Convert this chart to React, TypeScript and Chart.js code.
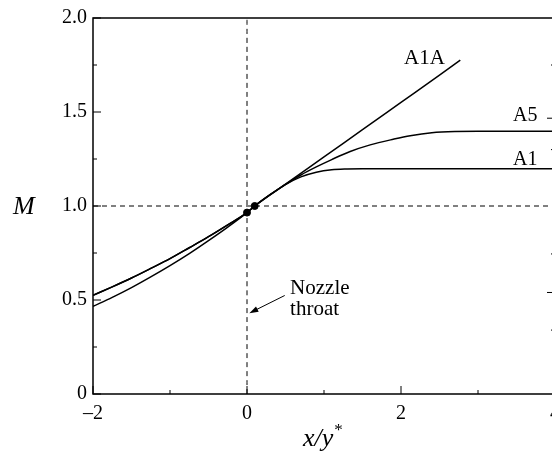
import React, { useEffect, useRef } from "react";
import { Chart, registerables } from "chart.js";

Chart.register(...registerables);

// ---- data ----
const xConv = [-2, -1.75, -1.5, -1.25, -1, -0.75, -0.5, -0.25, 0];
const mConvUpper = [0.525, 0.57, 0.617, 0.668, 0.72, 0.778, 0.837, 0.9, 0.965];
const mConvLower = [0.466, 0.514, 0.566, 0.623, 0.683, 0.747, 0.816, 0.888, 0.965];

const xA1A = [0.1, 0.5, 1, 1.5, 2, 2.5, 2.77];
const mA1A = [1.0, 1.116, 1.261, 1.406, 1.551, 1.696, 1.776];

const xA5 = [0.1, 0.3, 0.5, 0.7, 0.9, 1.1, 1.34, 1.6, 1.9, 2.12, 2.4, 2.7, 3.0, 4];
const mA5 = [1.0, 1.06, 1.115, 1.165, 1.208, 1.247, 1.29, 1.325, 1.355, 1.374, 1.39, 1.396, 1.397, 1.397];

const xA1 = [0.1, 0.3, 0.5, 0.7, 0.9, 1.1, 1.3, 1.5, 2, 4];
const mA1 = [1.0, 1.06, 1.114, 1.155, 1.18, 1.193, 1.197, 1.198, 1.198, 1.198];

const markX = [0, 0.1];
const markM = [0.965, 1.0];

const xTickLabels = ["\u20132", "", "0", "", "2", "", "4"];
const yTickLabels = ["0", "", "0.5", "", "1.0", "", "1.5", "", "2.0"];
const yTickMajor = [true, false, true, false, true, false, true, false, true];
const xTickMajor = [true, false, true, false, true, false, true];

// ticks on the (cropped) right-hand axis, in units of the left axis
const rightTicks = [1.75, 1.467, 1.3, 0.745, 0.54, 0.34];
const rightTickMajor = [false, true, false, false, true, false];

const curveLabels = ["A1A", "A5", "A1"];
const curveLabelX = [2.04, 3.455, 3.455];
const curveLabelM = [1.757, 1.45, 1.217];
const curveLabelSize = [21, 20, 20];

const noteLines = ["Nozzle", "throat"];
const noteX = 0.56;
const noteM = [0.534, 0.418];
const arrowFrom = [0.49, 0.524];
const arrowTo = [0.03, 0.43];

const SERIF = '"Liberation Serif", "Times New Roman", serif';

function pts(xs: number[], ys: number[]) {
  return xs.map((x, i) => ({ x, y: ys[i] }));
}

const overlay = {
  id: "overlay",
  afterDraw(chart: any) {
    const { ctx, chartArea: a, scales } = chart;
    const xs = scales.x;
    const ys = scales.y;
    ctx.save();
    ctx.strokeStyle = "#000";
    ctx.fillStyle = "#000";
    ctx.lineWidth = 1.5;
    // frame
    ctx.beginPath();
    ctx.rect(a.left, a.top, a.right - a.left, a.bottom - a.top);
    ctx.stroke();
    // inward ticks
    ctx.lineWidth = 1;
    xs.ticks.forEach((t: any, i: number) => {
      const px = xs.getPixelForValue(t.value);
      const len = xTickMajor[i] ? 8 : 4;
      ctx.beginPath();
      ctx.moveTo(px, a.bottom);
      ctx.lineTo(px, a.bottom - len);
      ctx.stroke();
    });
    ys.ticks.forEach((t: any, i: number) => {
      const py = ys.getPixelForValue(t.value);
      const len = yTickMajor[i] ? 8 : 4;
      ctx.beginPath();
      ctx.moveTo(a.left, py);
      ctx.lineTo(a.left + len, py);
      ctx.stroke();
    });
    rightTicks.forEach((v, i) => {
      const py = ys.getPixelForValue(v);
      const len = rightTickMajor[i] ? 8 : 4;
      ctx.beginPath();
      ctx.moveTo(a.right, py);
      ctx.lineTo(a.right - len, py);
      ctx.stroke();
    });
    // curve labels
    ctx.textAlign = "left";
    ctx.textBaseline = "alphabetic";
    curveLabels.forEach((s, i) => {
      ctx.font = `${curveLabelSize[i]}px ${SERIF}`;
      ctx.fillText(s, xs.getPixelForValue(curveLabelX[i]), ys.getPixelForValue(curveLabelM[i]));
    });
    // note
    ctx.font = `21px ${SERIF}`;
    noteLines.forEach((s, i) => {
      ctx.fillText(s, xs.getPixelForValue(noteX), ys.getPixelForValue(noteM[i]));
    });
    // arrow
    const x1 = xs.getPixelForValue(arrowFrom[0]);
    const y1 = ys.getPixelForValue(arrowFrom[1]);
    const x2 = xs.getPixelForValue(arrowTo[0]);
    const y2 = ys.getPixelForValue(arrowTo[1]);
    const ang = Math.atan2(y2 - y1, x2 - x1);
    ctx.beginPath();
    ctx.moveTo(x1, y1);
    ctx.lineTo(x2 - 6 * Math.cos(ang), y2 - 6 * Math.sin(ang));
    ctx.stroke();
    ctx.beginPath();
    ctx.moveTo(x2, y2);
    ctx.lineTo(x2 - 9 * Math.cos(ang) + 3 * Math.sin(ang), y2 - 9 * Math.sin(ang) - 3 * Math.cos(ang));
    ctx.lineTo(x2 - 9 * Math.cos(ang) - 3 * Math.sin(ang), y2 - 9 * Math.sin(ang) + 3 * Math.cos(ang));
    ctx.closePath();
    ctx.fill();
    // axis titles
    ctx.font = `italic 26px ${SERIF}`;
    ctx.fillText("M", 13, ys.getPixelForValue(1.0) + 8);
    const tx = 303;
    const ty = 446;
    ctx.fillText("x/y", tx, ty);
    const w = ctx.measureText("x/y").width;
    ctx.font = `17px ${SERIF}`;
    ctx.fillText("*", tx + w + 1, ty - 11);
    ctx.restore();
  },
};

export default function App() {
  const ref = useRef<HTMLCanvasElement | null>(null);
  useEffect(() => {
    if (!ref.current) return;
    const line = (data: any, extra: any = {}) => ({
      type: "line",
      data,
      borderColor: "#000",
      borderWidth: 1.5,
      pointRadius: 0,
      fill: false,
      cubicInterpolationMode: "monotone",
      ...extra,
    });
    const chart = new Chart(ref.current, {
      type: "line",
      data: {
        datasets: [
          line(pts([-2, 4], [1, 1]), { borderWidth: 1, borderDash: [5, 4] }),
          line(pts([0, 0], [0, 2]), { borderWidth: 1, borderDash: [5, 4] }),
          line(pts(xConv.concat(xA1A), mConvLower.concat(mA1A)), { label: "A1A" }),
          line(pts(xConv.concat(xA5), mConvUpper.concat(mA5)), { label: "A5" }),
          line(pts(xConv.concat(xA1), mConvUpper.concat(mA1)), { label: "A1" }),
          {
            type: "scatter",
            data: pts(markX, markM),
            pointRadius: 3.5,
            backgroundColor: "#000",
            borderColor: "#000",
          },
        ] as any,
      },
      options: {
        animation: false,
        responsive: false,
        maintainAspectRatio: false,
        layout: { padding: { left: 0, top: 15, right: 45, bottom: 0 } },
        plugins: { legend: { display: false }, tooltip: { enabled: false } },
        scales: {
          x: {
            type: "linear",
            min: -2,
            max: 4,
            grid: { display: false, drawTicks: false },
            border: { display: false },
            afterFit: (s: any) => {
              s.height = 59;
            },
            ticks: {
              stepSize: 1,
              autoSkip: false,
              maxRotation: 0,
              padding: 8,
              color: "#000",
              font: { family: SERIF, size: 20 },
              callback: (_v: any, i: number) => xTickLabels[i],
            },
          },
          y: {
            type: "linear",
            min: 0,
            max: 2,
            grid: { display: false, drawTicks: false },
            border: { display: false },
            afterFit: (s: any) => {
              s.width = 93;
            },
            ticks: {
              stepSize: 0.25,
              autoSkip: false,
              padding: 6,
              color: "#000",
              font: { family: SERIF, size: 20 },
              callback: (_v: any, i: number) => yTickLabels[i],
            },
          },
        },
      } as any,
      plugins: [overlay],
    });
    return () => chart.destroy();
  }, []);
  return (
    <div
      style={{
        position: "fixed",
        left: 0,
        top: 0,
        width: 552,
        height: 453,
        overflow: "hidden",
        background: "#fff",
      }}
    >
      <canvas ref={ref} width={600} height={453} style={{ display: "block" }} />
    </div>
  );
}
